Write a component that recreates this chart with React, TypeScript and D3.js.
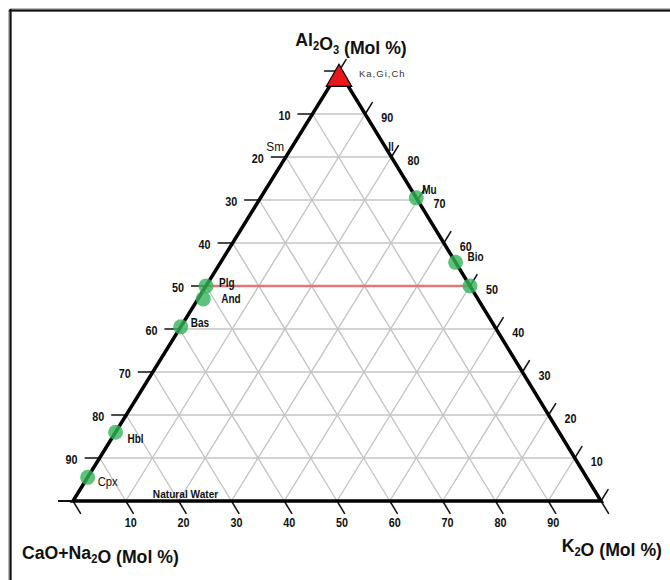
import React, { useEffect, useRef } from "react";
import * as d3 from "d3";

// ternary data (Al2O3 % and K2O % ; CaO+Na2O is the rest)
const levels = [0, 10, 20, 30, 40, 50, 60, 70, 80, 90, 100];
const axisLabels = [10, 20, 30, 40, 50, 60, 70, 80, 90];

const mineralNames = ["Mu", "Bio", "", "Plg", "And", "Bas", "Hbl", "Cpx"];
const mineralAl = [70.5, 55.5, 50, 50, 47, 40.5, 16, 5.5];
const mineralK = [29.5, 44.5, 50, 0, 1, 0, 0, 0];

const apexName = "Ka,Gi,Ch";
const apexAl = 100;

const noteNames = ["Sm", "Il", "Natural Water"];
const noteAl = [82, 82, 1];
const noteK = [0, 18, 15];

const tieLineAl = 50;

const W = 670;
const H = 580;
const A = { x: 339, y: 71 };
const L = { x: 73, y: 501 };
const R = { x: 601, y: 501 };

const FONT = "'Liberation Sans', Arial, sans-serif";

// label placement for the mineral names
const labelOffset: Record<string, [number, number]> = {
  Mu: [6, -4],
  Bio: [12, -1],
  Plg: [13, 1],
  And: [18, 4],
  Bas: [10, 0],
  Hbl: [12, 11],
  Cpx: [10, 9],
};

type Sel = d3.Selection<SVGGElement, unknown, null, undefined> | d3.Selection<SVGSVGElement, unknown, null, undefined>;

// condensed text: scale x about the anchor point
const narrowText = (
  parent: Sel,
  x: number,
  y: number,
  s: string | number,
  size: number,
  opts: { anchor?: string; weight?: string; sx?: number; fill?: string } = {}
) =>
  parent
    .append("text")
    .attr("transform", `translate(${x},${y}) scale(${opts.sx ?? 0.8},1)`)
    .attr("text-anchor", opts.anchor ?? "start")
    .attr("font-family", FONT)
    .attr("font-weight", opts.weight ?? "bold")
    .attr("font-size", size)
    .attr("fill", opts.fill ?? "#111")
    .text(String(s));

const TernaryChart = () => {
  const svgRef = useRef<SVGSVGElement>(null);

  useEffect(() => {
    const svg = d3.select(svgRef.current as SVGSVGElement);
    svg.selectAll("*").remove();

    // Al level -> y, K share -> x
    const yLevel = d3.scaleLinear().domain([0, 100]).range([L.y, A.y]);
    const xBase = d3.scaleLinear().domain([0, 100]).range([L.x, R.x]);
    const px = (al: number, k: number) => xBase(k) + ((A.x - L.x) * al) / 100;
    const py = (al: number) => yLevel(al);

    // edge directions
    const leftLen = Math.hypot(A.x - L.x, A.y - L.y);
    const ldx = (A.x - L.x) / leftLen;
    const ldy = (A.y - L.y) / leftLen;
    const rightLen = Math.hypot(R.x - A.x, R.y - A.y);
    const rdx = (R.x - A.x) / rightLen;
    const rdy = (R.y - A.y) / rightLen;

    // frame
    svg.append("line").attr("x1", 10).attr("x2", W).attr("y1", 10).attr("y2", 10)
      .attr("stroke", "#bbb").attr("stroke-width", 4);
    svg.append("line").attr("x1", 10).attr("x2", 10).attr("y1", 10).attr("y2", H)
      .attr("stroke", "#bbb").attr("stroke-width", 4);
    svg.append("line").attr("x1", 9).attr("x2", W).attr("y1", 10.5).attr("y2", 10.5)
      .attr("stroke", "#111").attr("stroke-width", 2);
    svg.append("line").attr("x1", 10.5).attr("x2", 10.5).attr("y1", 9).attr("y2", H)
      .attr("stroke", "#111").attr("stroke-width", 2);

    const grid = svg.append("g").attr("stroke", "#c4c4c4").attr("stroke-width", 1.4);
    const inner = levels.slice(1, -1);
    // horizontal (constant Al2O3)
    grid.selectAll("line.h").data(inner).join("line")
      .attr("x1", (v) => px(v, 0)).attr("y1", (v) => py(v))
      .attr("x2", (v) => px(v, 100 - v)).attr("y2", (v) => py(v));
    // constant K2O (parallel to left edge)
    grid.selectAll("line.k").data(inner).join("line")
      .attr("x1", (v) => px(0, v)).attr("y1", py(0))
      .attr("x2", (v) => px(100 - v, v)).attr("y2", (v) => py(100 - v));
    // constant CaO+Na2O (parallel to right edge)
    grid.selectAll("line.c").data(inner).join("line")
      .attr("x1", (v) => px(0, v)).attr("y1", py(0))
      .attr("x2", (v) => px(v, 0)).attr("y2", (v) => py(v));

    // tie line
    svg.append("line")
      .attr("x1", px(tieLineAl, 0)).attr("y1", py(tieLineAl))
      .attr("x2", px(tieLineAl, 100 - tieLineAl)).attr("y2", py(tieLineAl))
      .attr("stroke", "#e07878").attr("stroke-width", 2.5);

    // ticks
    const ticks = svg.append("g").attr("stroke", "#111").attr("stroke-width", 1.5);
    ticks.selectAll("line.l").data(levels).join("line")
      .attr("x1", (v) => px(v, 0)).attr("y1", (v) => py(v))
      .attr("x2", (v) => px(v, 0) - 15).attr("y2", (v) => py(v));
    ticks.selectAll("line.r").data(levels).join("line")
      .attr("x1", (v) => px(v, 100 - v)).attr("y1", (v) => py(v))
      .attr("x2", (v) => px(v, 100 - v) + ldx * 14).attr("y2", (v) => py(v) + ldy * 14);
    ticks.selectAll("line.b").data(levels).join("line")
      .attr("x1", (v) => px(0, v)).attr("y1", py(0))
      .attr("x2", (v) => px(0, v) + rdx * 15).attr("y2", py(0) + rdy * 15);

    // triangle outline
    svg.append("path")
      .attr("d", `M${L.x},${L.y}L${A.x},${A.y}L${R.x},${R.y}Z`)
      .attr("fill", "none").attr("stroke", "#000").attr("stroke-width", 3.5)
      .attr("stroke-linejoin", "miter");
    svg.append("line").attr("x1", L.x - 15).attr("x2", L.x).attr("y1", L.y).attr("y2", L.y)
      .attr("stroke", "#111").attr("stroke-width", 2);

    // tick labels
    const lab = svg.append("g");
    axisLabels.forEach((d) => {
      narrowText(lab, px(100 - d, 0) - 22, py(100 - d) + 6, d, 13.5, { anchor: "end" });
      narrowText(lab, px(d, 100 - d) + 16, py(d) + 8, d, 13.5);
      narrowText(lab, px(0, d) + 5, py(0) + 26, d, 13.5, { anchor: "middle" });
    });

    // minerals
    const idx = d3.range(mineralNames.length);
    svg.append("g").selectAll("circle").data(idx).join("circle")
      .attr("cx", (i) => px(mineralAl[i], mineralK[i]))
      .attr("cy", (i) => py(mineralAl[i]))
      .attr("r", 7.5)
      .attr("fill", "#35b45a").attr("fill-opacity", 0.8);

    const ml = svg.append("g");
    idx.filter((i) => mineralNames[i]).forEach((i) => {
      const [dx, dy] = labelOffset[mineralNames[i]];
      narrowText(ml, px(mineralAl[i], mineralK[i]) + dx, py(mineralAl[i]) + dy, mineralNames[i], 12.5,
        mineralNames[i] === "Cpx" ? { weight: "normal", sx: 0.9 } : {});
    });

    // notes without markers
    const nx = noteNames.map((_, i) => px(noteAl[i], noteK[i]));
    const ny = noteNames.map((_, i) => py(noteAl[i]));
    narrowText(ml, nx[0] - 7, ny[0] + 3, noteNames[0], 12.5, { anchor: "end", weight: "normal", sx: 0.95 });
    narrowText(ml, nx[1] + 2, ny[1] + 3, noteNames[1], 12.5);
    narrowText(ml, nx[2] - 2, ny[2] + 1, noteNames[2], 11.5, { sx: 0.88 });

    // apex marker
    svg.append("path")
      .attr("d", d3.symbol().type(d3.symbolTriangle).size(280)())
      .attr("transform", `translate(${px(apexAl, 0)},${py(apexAl) + 8})`)
      .attr("fill", "#e8171c").attr("stroke", "#000").attr("stroke-width", 1.2);
    svg.append("text").attr("x", px(apexAl, 0) + 20).attr("y", py(apexAl) + 6)
      .attr("font-family", FONT).attr("font-size", 9.5)
      .attr("letter-spacing", 1).attr("fill", "#333").text(apexName);

    // axis titles
    const title = (x: number, y: number, parts: [string, boolean][], anchor: string) => {
      const t = svg.append("text")
        .attr("transform", `translate(${x},${y}) scale(0.93,1)`)
        .attr("text-anchor", anchor)
        .attr("font-family", FONT).attr("font-weight", "bold").attr("font-size", 19)
        .attr("fill", "#111");
      parts.forEach(([s, sub]) => {
        t.append("tspan").attr("font-size", sub ? 12 : 19).attr("dy", sub ? 4 : 0).text(s);
        if (sub) t.append("tspan").attr("dy", -4).text("");
      });
    };
    title(351, 46, [["Al", false], ["2", true], ["O", false], ["3", true], [" (Mol %)", false]], "middle");
    title(22, 559, [["CaO+Na", false], ["2", true], ["O (Mol %)", false]], "start");
    title(662, 552, [["K", false], ["2", true], ["O (Mol %)", false]], "end");
  }, []);

  return (
    <svg
      ref={svgRef}
      width={W}
      height={H}
      style={{ position: "absolute", left: 0, top: 0, background: "#fff" }}
    />
  );
};

export default function App() {
  return <TernaryChart />;
}
